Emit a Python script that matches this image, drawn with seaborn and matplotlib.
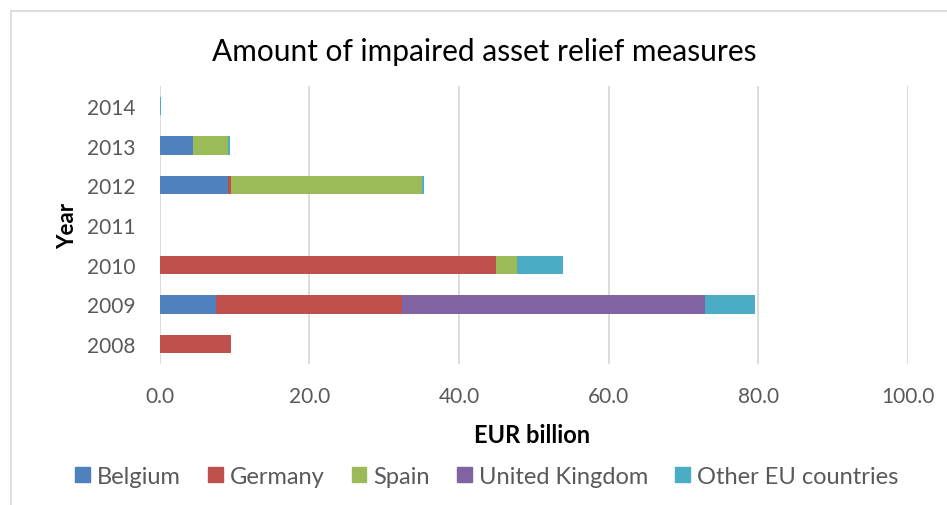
import matplotlib
matplotlib.use("Agg")
import matplotlib.pyplot as plt
import matplotlib.patches as mpatches
import numpy as np
import pandas as pd
import seaborn as sns

# Impaired asset relief measures by year (EUR billion)
years = ["2008", "2009", "2010", "2011", "2012", "2013", "2014"]
belgium = [0.0, 7.6, 0.0, 0.0, 9.2, 4.5, 0.0]
germany = [9.6, 24.8, 44.9, 0.0, 0.4, 0.0, 0.0]
spain = [0.0, 0.0, 2.9, 0.0, 25.5, 4.6, 0.0]
united_kingdom = [0.0, 40.5, 0.0, 0.0, 0.0, 0.0, 0.0]
other_eu = [0.0, 6.6, 6.1, 0.0, 0.2, 0.3, 0.2]

series_names = ["Belgium", "Germany", "Spain", "United Kingdom", "Other EU countries"]
series_values = [belgium, germany, spain, united_kingdom, other_eu]
series_colors = ["#4F81BD", "#C0504D", "#9BBB59", "#8064A2", "#4BACC6"]
x_ticks = [0, 20, 40, 60, 80, 100]

sns.set_theme(style="white")
plt.rcParams["font.family"] = ["Lato", "DejaVu Sans"]

df = pd.DataFrame({"Year": years})
for name, vals in zip(series_names, series_values):
    df[name] = vals
cum = df[series_names].cumsum(axis=1)
cum["Year"] = df["Year"]

order = years[::-1]  # latest year on top

fig = plt.figure(figsize=(9.47, 5.06), dpi=100)
ax = fig.add_axes([0.1685, 0.2787, 0.7903, 0.5494])

# stacked bars: draw cumulative totals from the outermost segment inwards
for name, color in reversed(list(zip(series_names, series_colors))):
    sns.barplot(data=cum, y="Year", x=name, order=order, orient="h",
                color=color, saturation=1, width=0.46, ax=ax,
                edgecolor="none", linewidth=0)

ax.set_xlim(0, 100)
ax.set_ylim(6.5, -0.5)
ax.set_xticks(x_ticks)
ax.set_xticklabels([f"{v:.1f}" for v in x_ticks])
ax.xaxis.grid(True, color="#D9D9D9", linewidth=1.3)
ax.set_axisbelow(True)
for s in ax.spines.values():
    s.set_visible(False)
ax.tick_params(axis="both", length=0, labelsize=15, colors="#595959")
ax.tick_params(axis="x", pad=16)
ax.tick_params(axis="y", pad=17.5)

ax.set_xlabel("EUR billion", fontsize=17, fontweight="bold", color="#000000")
ax.xaxis.label.set_va("center")
ax.xaxis.set_label_coords(0.498, -0.255)
ax.set_ylabel("Year", fontsize=16, fontweight="bold", color="#000000")
ax.yaxis.label.set_va("center")
ax.yaxis.set_label_coords(-0.123, 0.5)

fig.suptitle("Amount of impaired asset relief measures", fontsize=21.5,
             color="#000000", x=0.511, y=0.897, va="center")

handles = [mpatches.Patch(color=c, label=n) for n, c in zip(series_names, series_colors)]
fig.legend(handles=handles, loc="center", bbox_to_anchor=(0.514, 0.057), ncol=5,
           frameon=False, fontsize=17, handlelength=0.62, handleheight=0.62,
           handletextpad=0.3, columnspacing=1.15, labelcolor="#595959")

# chart area border
fig.add_artist(plt.Line2D([0.0116, 0.0116], [0.0, 0.976], color="#D9D9D9", linewidth=1.2,
                          transform=fig.transFigure))
fig.add_artist(plt.Line2D([0.0116, 1.0], [0.976, 0.976], color="#D9D9D9", linewidth=1.2,
                          transform=fig.transFigure))

fig.savefig("out.png", dpi=100, facecolor="white")
